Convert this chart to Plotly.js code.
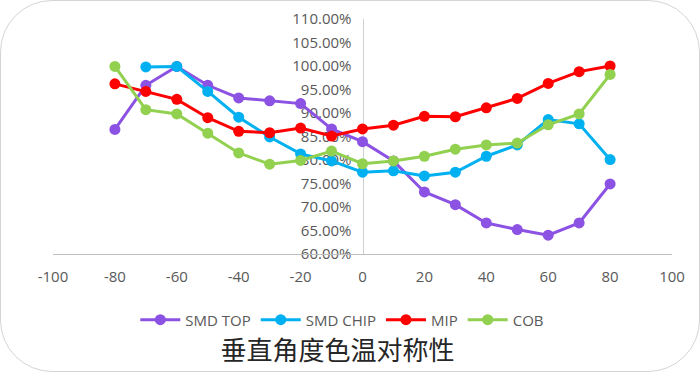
<!DOCTYPE html>
<html>
<head>
<meta charset="utf-8">
<script src="https://cdn.plot.ly/plotly-3.0.1.min.js"></script>
<style>
html,body{margin:0;padding:0;background:#fff;}
#wrap{position:relative;width:700px;height:372px;}
#chart{width:700px;height:372px;}
#frame{position:absolute;left:0;top:0;width:700px;height:372px;box-sizing:border-box;border:1px solid #d4d4d4;border-radius:52px;pointer-events:none;}
</style>
</head>
<body>
<div id="wrap"><div id="chart"></div><div id="frame"></div></div>
<script>
const angles = [-80,-70,-60,-50,-40,-30,-20,-10,0,10,20,30,40,50,60,70,80];
const anglesChip = [-70,-60,-50,-40,-30,-20,-10,0,10,20,30,40,50,60,70,80];
const smdTop  = [86.5,95.9,99.9,95.9,93.2,92.6,92.0,86.6,83.9,79.8,73.2,70.5,66.6,65.2,64.0,66.6,74.9];
const smdChip = [99.8,99.9,94.6,89.1,84.9,81.3,79.8,77.4,77.7,76.6,77.4,80.8,83.2,88.6,87.7,80.1];
const mip     = [96.2,94.6,92.9,89.0,86.1,85.8,86.8,85.1,86.6,87.4,89.3,89.2,91.1,93.1,96.3,98.8,100.0];
const cob     = [99.9,90.7,89.8,85.7,81.5,79.1,79.9,81.9,79.2,79.8,80.8,82.3,83.2,83.6,87.5,89.8,98.2];
const seriesNames = ['SMD TOP','SMD CHIP','MIP','COB'];
const colors = ['#8C52E3','#00B0F0','#FF0000','#92D050'];
const xTickVals = [-100,-80,-60,-40,-20,0,20,40,60,80,100];
const yTickVals = [60,65,70,75,80,85,90,95,100,105,110];
const chartTitle = '垂直角度色温对称性';

const xs = [angles, anglesChip, angles, angles];
const ys = [smdTop, smdChip, mip, cob];
const traces = seriesNames.map((n,i)=>({
  type:'scatter', mode:'lines+markers', name:n,
  x: xs[i], y: ys[i],
  line:{color:colors[i], width:3},
  marker:{color:colors[i], size:11},
  hoverinfo:'skip'
}));

const font = 'Open Sans, Noto Sans, sans-serif';
const layout = {
  width:700, height:372,
  margin:{l:53, r:28, t:19, b:118},
  paper_bgcolor:'#ffffff', plot_bgcolor:'#ffffff',
  showlegend:true,
  legend:{orientation:'h', xref:'container', yref:'container', x:0.489, xanchor:'center', y:0.14, yanchor:'middle',
          font:{family:font, size:15, color:'#595959'}, itemwidth:40, tracegroupgap:0},
  title:{text:chartTitle, xref:'container', yref:'container', x:0.482, xanchor:'center', y:0.056, yanchor:'middle',
         font:{family:'Noto Sans CJK SC, sans-serif', size:26, color:'#262626'}},
  xaxis:{range:[-100,100], tickvals:xTickVals, ticktext:xTickVals.map(String),
         showline:true, linecolor:'#bfbfbf', linewidth:1, showgrid:false, zeroline:false,
         ticks:'', ticklabelstandoff:9,
         tickfont:{family:font, size:15, color:'#595959'}},
  yaxis:{range:[60,110], tickvals:yTickVals, ticktext:yTickVals.map(v=>v.toFixed(2)+'%'),
         anchor:'free', position:0.5, layer:'below traces',
         showline:true, linecolor:'#d0d0d0', linewidth:1, showgrid:false, zeroline:false,
         ticks:'', ticklabelstandoff:8,
         tickfont:{family:font, size:15, color:'#595959'}}
};
Plotly.newPlot('chart', traces, layout, {staticPlot:true, displayModeBar:false});
</script>
</body>
</html>
